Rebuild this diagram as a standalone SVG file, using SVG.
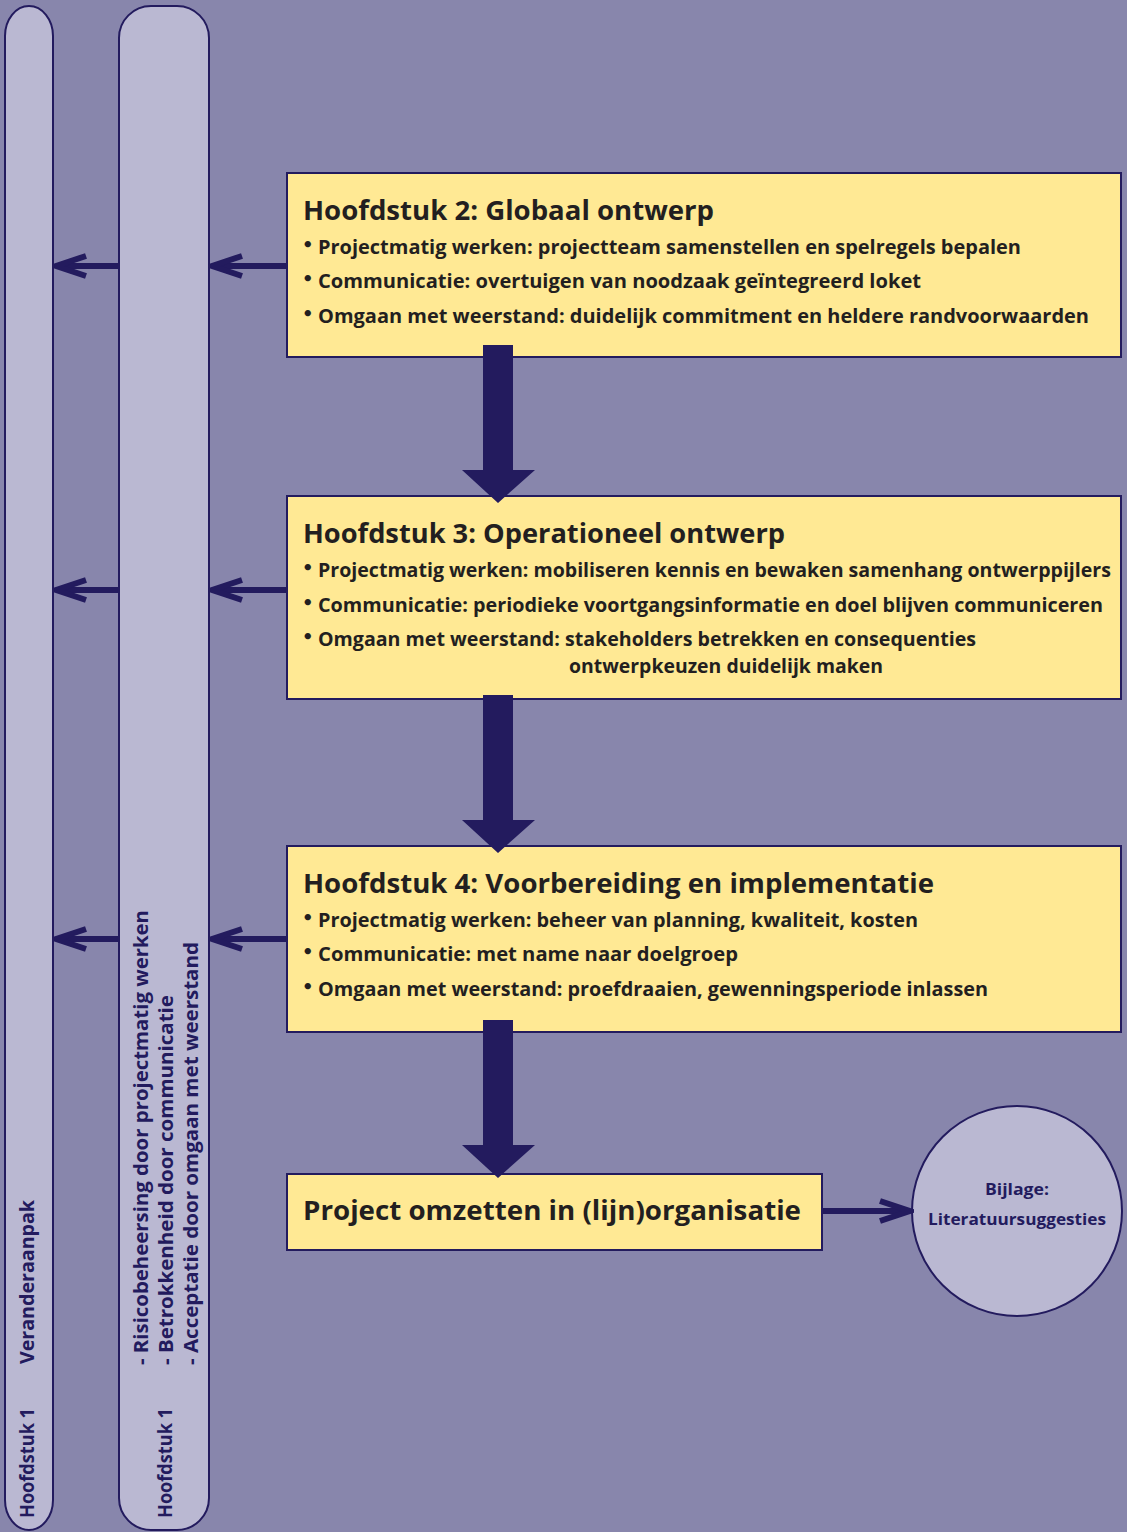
<svg xmlns="http://www.w3.org/2000/svg" width="1127" height="1532" viewBox="0 0 1127 1532">
<style>
.bg{fill:#8886ac}
.pillar{fill:#bab8d2;stroke:#231b5e;stroke-width:2}
.box{fill:#ffe994;stroke:#231b5e;stroke-width:2}
.title{font-family:"Open Sans",Lato,sans-serif;font-weight:bold;font-size:26px;fill:#231f20}
.item{font-family:"Open Sans",Lato,sans-serif;font-weight:bold;font-size:19px;fill:#231f20}
.dot{font-family:"DejaVu Sans",sans-serif;font-weight:bold;font-size:18px;fill:#231f20}
.vt{font-family:"Open Sans",Lato,sans-serif;font-weight:bold;font-size:19px;fill:#231b5e}
.ct{font-family:"Open Sans",Lato,sans-serif;font-weight:bold;font-size:16px;fill:#231b5e;text-anchor:middle}
.link{stroke:#231b5e;stroke-width:6;fill:none;marker-end:url(#chev)}
.big{fill:#231b5e}
</style>
<defs>
<marker id="chev" markerUnits="userSpaceOnUse" viewBox="-36 -16 40 32" markerWidth="40" markerHeight="32" refX="0" refY="0" orient="auto">
<path d="M-30,-10 L0,0 L-30,10" fill="none" stroke="#231b5e" stroke-width="6"/>
</marker>
</defs>
<rect class="bg" x="0" y="0" width="1127" height="1532"/>

<g id="pillar-veranderaanpak">
<rect class="pillar" x="5" y="6" width="48" height="1524" rx="24" ry="30"/>
<text class="vt" transform="translate(34,1518) rotate(-90)" textLength="110" lengthAdjust="spacingAndGlyphs">Hoofdstuk 1</text>
<text class="vt" transform="translate(34,1364) rotate(-90)" textLength="164" lengthAdjust="spacingAndGlyphs">Veranderaanpak</text>
</g>

<g id="pillar-hoofdstuk1">
<rect class="pillar" x="119" y="6" width="90" height="1524" rx="32" ry="32"/>
<text class="vt" transform="translate(172,1518) rotate(-90)" textLength="110" lengthAdjust="spacingAndGlyphs">Hoofdstuk 1</text>
<text class="vt" transform="translate(148,1365) rotate(-90)" textLength="455" lengthAdjust="spacingAndGlyphs">-  Risicobeheersing door projectmatig werken</text>
<text class="vt" transform="translate(173,1365) rotate(-90)" textLength="370" lengthAdjust="spacingAndGlyphs">-  Betrokkenheid door communicatie</text>
<text class="vt" transform="translate(198,1365) rotate(-90)" textLength="423" lengthAdjust="spacingAndGlyphs">-  Acceptatie door omgaan met weerstand</text>
</g>

<g id="box-h2">
<rect class="box" x="287" y="173" width="834" height="184"/>
<text class="title" x="303" y="220" textLength="411" lengthAdjust="spacingAndGlyphs">Hoofdstuk 2: Globaal ontwerp</text>
<text class="dot" x="302" y="251">•</text>
<text class="item" x="318" y="254" textLength="703" lengthAdjust="spacingAndGlyphs">Projectmatig werken: projectteam samenstellen en spelregels bepalen</text>
<text class="dot" x="302" y="285">•</text>
<text class="item" x="318" y="288" textLength="603" lengthAdjust="spacingAndGlyphs">Communicatie: overtuigen van noodzaak geïntegreerd loket</text>
<text class="dot" x="302" y="320">•</text>
<text class="item" x="318" y="323" textLength="771" lengthAdjust="spacingAndGlyphs">Omgaan met weerstand: duidelijk commitment en heldere randvoorwaarden</text>
</g>

<g id="box-h3">
<rect class="box" x="287" y="496" width="834" height="203"/>
<text class="title" x="303" y="543" textLength="482" lengthAdjust="spacingAndGlyphs">Hoofdstuk 3: Operationeel ontwerp</text>
<text class="dot" x="302" y="574">•</text>
<text class="item" x="318" y="577" textLength="793" lengthAdjust="spacingAndGlyphs">Projectmatig werken: mobiliseren kennis en bewaken samenhang ontwerppijlers</text>
<text class="dot" x="302" y="609">•</text>
<text class="item" x="318" y="612" textLength="785" lengthAdjust="spacingAndGlyphs">Communicatie: periodieke voortgangsinformatie en doel blijven communiceren</text>
<text class="dot" x="302" y="643">•</text>
<text class="item" x="318" y="646" textLength="658" lengthAdjust="spacingAndGlyphs">Omgaan met weerstand: stakeholders betrekken en consequenties</text>
<text class="item" x="569" y="673" textLength="314" lengthAdjust="spacingAndGlyphs">ontwerpkeuzen duidelijk maken</text>
</g>

<g id="box-h4">
<rect class="box" x="287" y="846" width="834" height="186"/>
<text class="title" x="303" y="893" textLength="631" lengthAdjust="spacingAndGlyphs">Hoofdstuk 4: Voorbereiding en implementatie</text>
<text class="dot" x="302" y="924">•</text>
<text class="item" x="318" y="927" textLength="600" lengthAdjust="spacingAndGlyphs">Projectmatig werken: beheer van planning, kwaliteit, kosten</text>
<text class="dot" x="302" y="958">•</text>
<text class="item" x="318" y="961" textLength="420" lengthAdjust="spacingAndGlyphs">Communicatie: met name naar doelgroep</text>
<text class="dot" x="302" y="993">•</text>
<text class="item" x="318" y="996" textLength="670" lengthAdjust="spacingAndGlyphs">Omgaan met weerstand: proefdraaien, gewenningsperiode inlassen</text>
</g>

<g id="box-project">
<rect class="box" x="287" y="1174" width="535" height="76"/>
<text class="title" x="303" y="1220" textLength="498" lengthAdjust="spacingAndGlyphs">Project omzetten in (lijn)organisatie</text>
</g>

<g id="circle-bijlage">
<circle cx="1017" cy="1211" r="105" fill="#bab8d2" stroke="#231b5e" stroke-width="2"/>
<text class="ct" x="1017" y="1195" textLength="64" lengthAdjust="spacingAndGlyphs">Bijlage:</text>
<text class="ct" x="1017" y="1225" textLength="178" lengthAdjust="spacingAndGlyphs">Literatuursuggesties</text>
</g>

<g id="connectors">
<line class="link" x1="287" y1="266" x2="212" y2="266"/>
<line class="link" x1="119" y1="266" x2="56" y2="266"/>
<line class="link" x1="287" y1="590" x2="212" y2="590"/>
<line class="link" x1="119" y1="590" x2="56" y2="590"/>
<line class="link" x1="287" y1="939" x2="212" y2="939"/>
<line class="link" x1="119" y1="939" x2="56" y2="939"/>
<line class="link" x1="823" y1="1211" x2="910" y2="1211"/>
<polygon class="big" points="483,345 513,345 513,470 535,470 498,503 462,470 483,470"/>
<polygon class="big" points="483,695 513,695 513,820 535,820 498,853 462,820 483,820"/>
<polygon class="big" points="483,1020 513,1020 513,1145 535,1145 498,1178 462,1145 483,1145"/>
</g>
</svg>
